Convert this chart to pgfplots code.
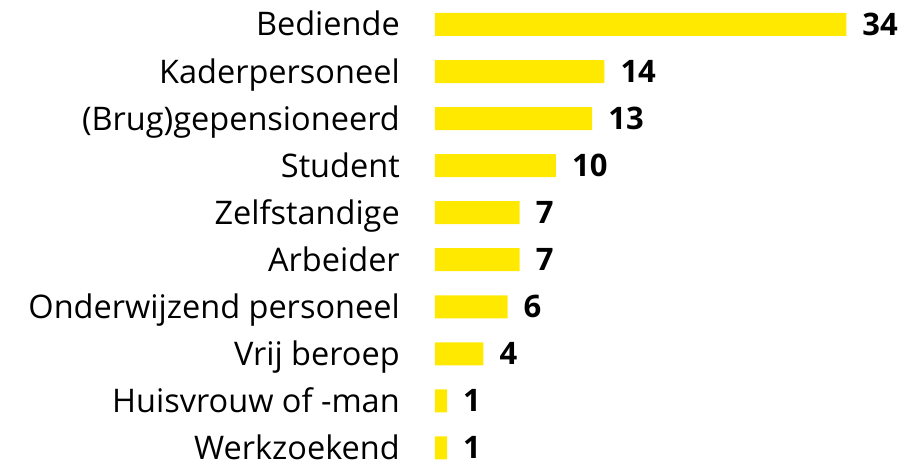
\documentclass[border=0pt]{standalone}
\usepackage{fontspec}
\setmainfont{Open Sans}
\usepackage{pgfplots}
\pgfplotsset{compat=1.18}
\definecolor{geel}{RGB}{255,233,0}
\begin{document}
\begin{tikzpicture}
\begin{axis}[
  scale only axis, width=480pt, height=464pt,
  xmin=0, xmax=39.67, ymin=-0.52, ymax=9.34, y dir=reverse,
  xbar, bar width=23pt,
  hide x axis,
  axis line style={draw=none},
  clip=false,
  /pgf/number format/assume math mode=true,
  ytick={0,...,9},
  yticklabels={Bediende,Kaderpersoneel,(Brug)gepensioneerd,Student,Zelfstandige,Arbeider,Onderwijzend personeel,Vrij beroep,Huisvrouw of -man,Werkzoekend},
  major tick length=0pt,
  yticklabel style={font=\fontsize{32.5}{36}\selectfont, anchor=base east, inner sep=0pt, xshift=-35pt, yshift=-11.5pt},
  nodes near coords,
  nodes near coords style={font=\fontsize{31}{36}\selectfont\bfseries, anchor=base west, inner sep=0pt, xshift=16pt, yshift=-11pt, text=black},
]
\addplot[fill=geel, draw=none] coordinates {(34,0) (14,1) (13,2) (10,3) (7,4) (7,5) (6,6) (4,7) (1,8) (1,9)};
\path (rel axis cs:-0.90625,-0.01) rectangle (rel axis cs:1,1);
\end{axis}
\end{tikzpicture}
\end{document}
